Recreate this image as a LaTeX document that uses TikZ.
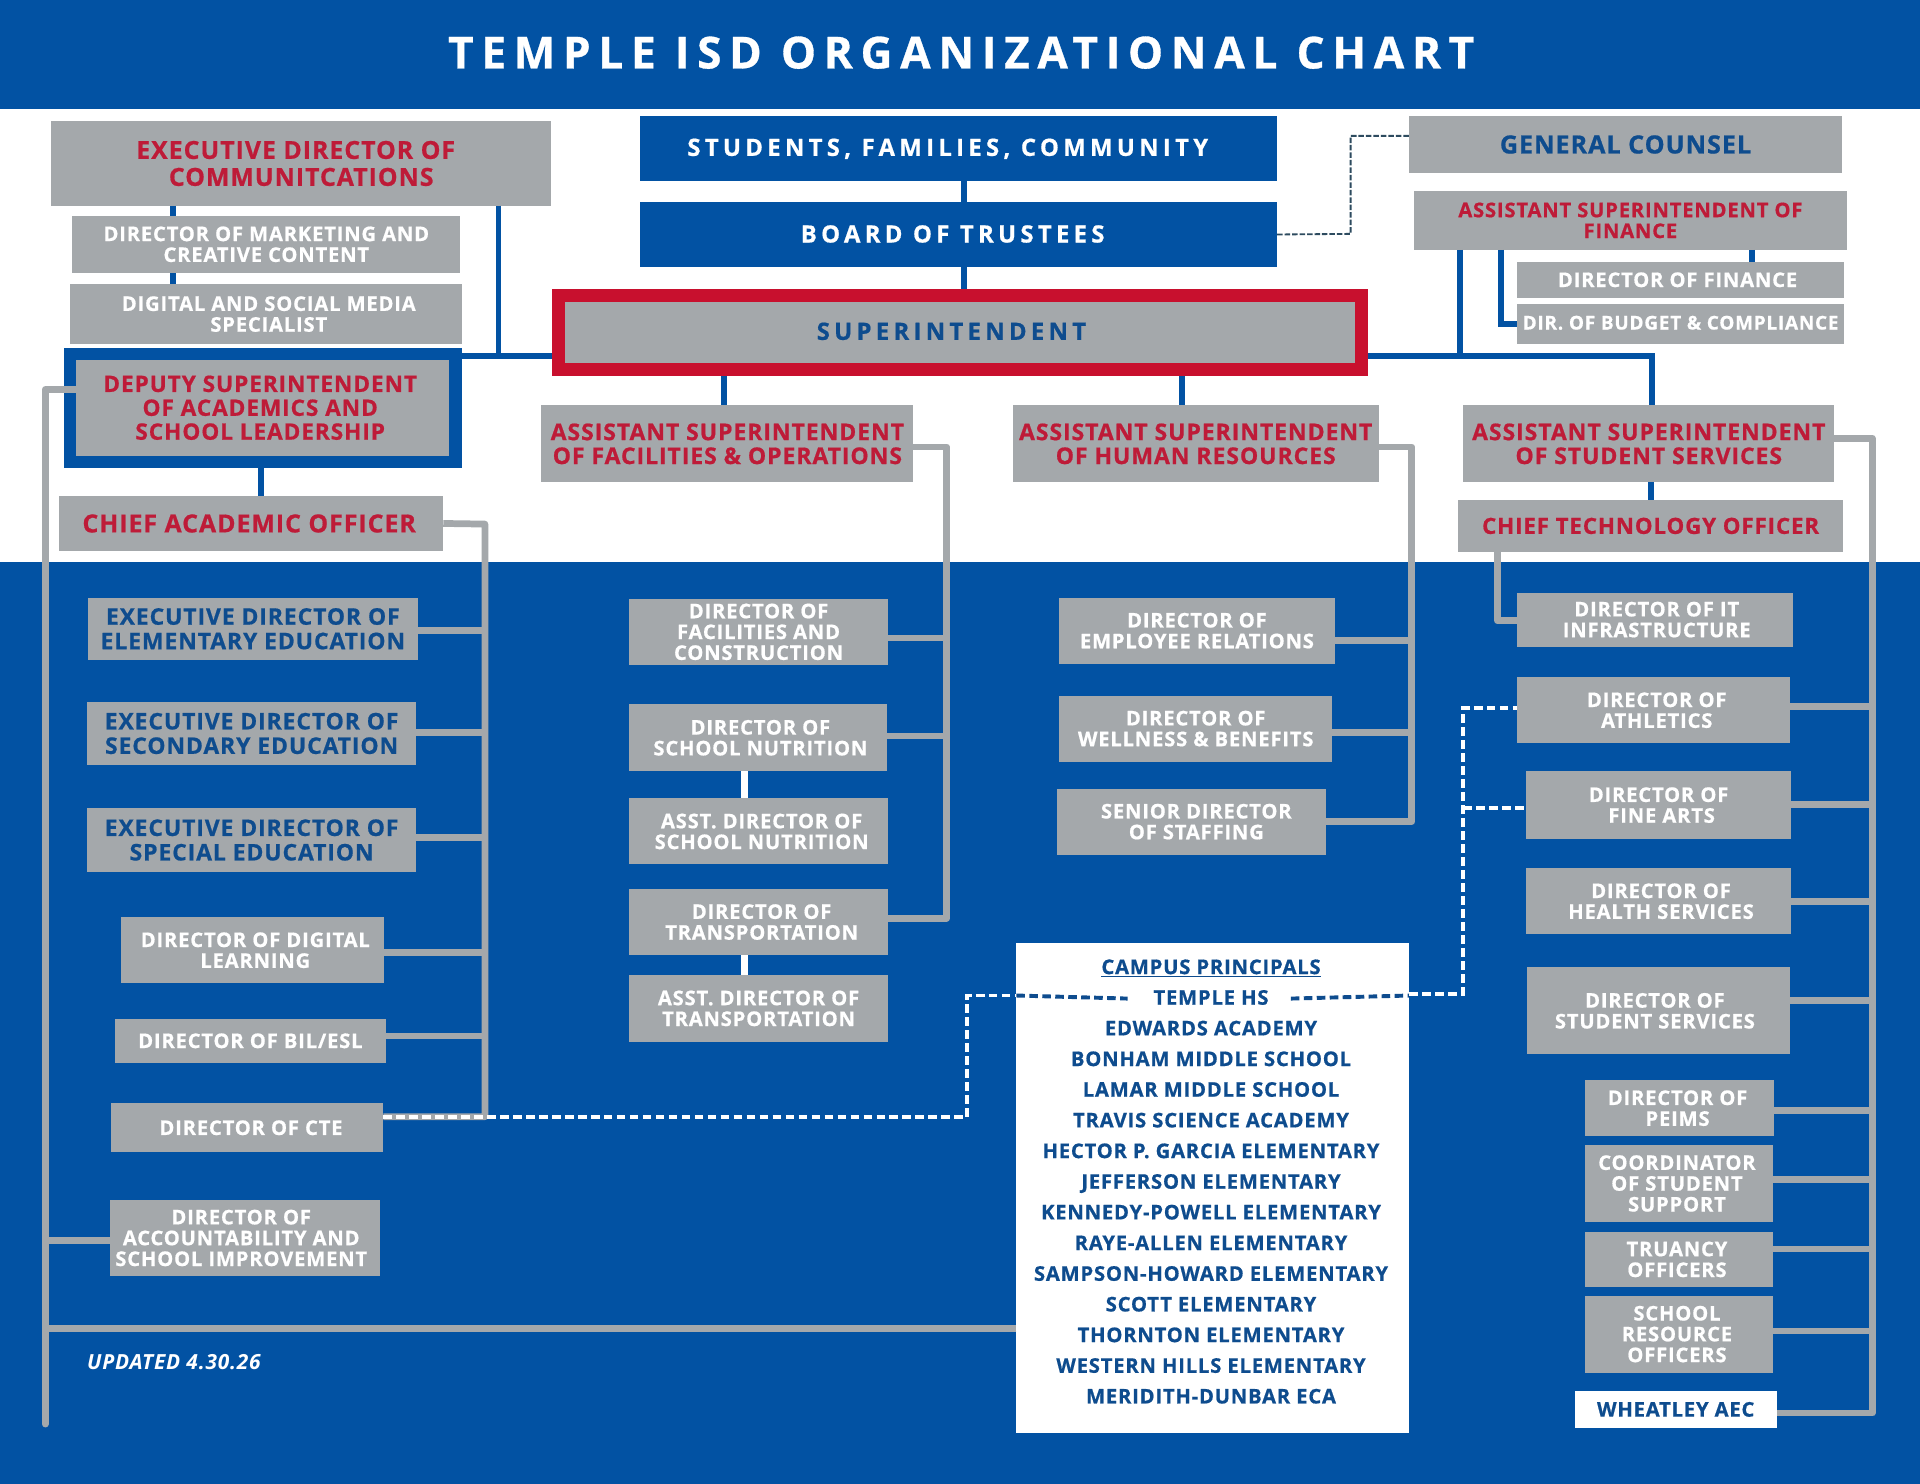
\documentclass[tikz,border=0pt]{standalone}
\usepackage{fontspec}
\setmainfont{Open Sans}[LetterSpace=4,BoldFeatures={FakeBold=0.7}]
\newfontfamily\titlefont{Open Sans}[LetterSpace=17.5,BoldFeatures={FakeBold=0.7}]
\newfontfamily\widefont{Open Sans}[LetterSpace=18,BoldFeatures={FakeBold=0.7}]
\definecolor{isdblue}{RGB}{2,82,163}
\definecolor{isdgray}{RGB}{164,168,171}
\definecolor{isdred}{RGB}{200,16,46}
\definecolor{txtred}{RGB}{190,27,56}
\definecolor{txtblue}{RGB}{14,76,142}
\definecolor{thindash}{RGB}{45,75,95}
\newcommand{\fs}[2]{\fontsize{#1}{#2}\selectfont\bfseries}
\tikzset{
  sz/.style 2 args={minimum width=#1,minimum height=#2},
  card/.style={fill=isdgray,inner sep=0pt,outer sep=0pt,align=center},
  redbig/.style={card,text=txtred,font=\fs{20.3}{22}},
  redmid/.style={card,text=txtred,font=\fs{18.8}{19.5}},
  redsmall/.style={card,text=txtred,font=\fs{16.5}{17}},
  bluemid/.style={card,text=txtblue,font=\fs{18.7}{20}},
  whitesm/.style={card,text=white,font=\fs{16.5}{17}},
  bluebar/.style={fill=isdblue,text=white,inner sep=0pt,outer sep=0pt,font=\widefont\fs{19.5}{20}},
  school/.style={inner sep=0pt,text=txtblue,font=\fs{16.5}{17},text height=12pt,text depth=0pt},
  blueline/.style={draw=isdblue,line width=5pt},
  grayline/.style={draw=isdgray,line width=5.5pt,line join=round},
  whiteline/.style={draw=white,line width=5pt},
  dashwhite/.style={draw=white,line width=3.2pt,dash pattern=on 7pt off 3.6pt},
  dashdark/.style={draw=txtblue,line width=3.2pt,dash pattern=on 7pt off 3.6pt},
}
\begin{document}
\begin{tikzpicture}[x=1pt,y=-1pt]
\useasboundingbox (0,0) rectangle (1568,1211.9);
\fill[white] (0,0) rectangle (1568,1211.9);
\fill[isdblue] (0,0) rectangle (1568,89);
\fill[isdblue] (0,459) rectangle (1568,1211.9);
\node[inner sep=0pt,text=white,font=\titlefont\fs{36}{40}] (title) at (785,43) {TEMPLE ISD ORGANIZATIONAL CHART};

% top middle
\node[bluebar,sz={520}{53}] (students) at (783,121.5) {\kern-18pt\raisebox{1pt}{STUDENTS, FAMILIES, COMMUNITY}};
\node[bluebar,sz={520}{53}] (board) at (783,191.5) {\kern-10pt\raisebox{1pt}{BOARD OF TRUSTEES}};
\node[card,sz={655.5}{60.5},draw=isdred,line width=10.5pt,outer sep=5.25pt,text=txtblue,font=\widefont\fs{19.5}{20}] (super) at (784,271.5) {\kern-14pt\raisebox{2pt}{SUPERINTENDENT}};

% left column, white part
\node[redbig,sz={408}{69}] (execcomm) at (246,133.5) {\kern-9pt EXECUTIVE DIRECTOR OF\\COMMUNITCATIONS};
\node[whitesm,sz={317}{47}] (dirmkt) at (217.5,199.5) {DIRECTOR OF MARKETING AND\\CREATIVE CONTENT};
\node[whitesm,sz={320}{49}] (digsoc) at (217,256.5) {\kern5pt DIGITAL AND SOCIAL MEDIA\\\kern5pt SPECIALIST};
\node[redmid,font=\fs{18.5}{19.5},sz={315}{88},draw=isdblue,line width=10pt,outer sep=5pt] (deputy) at (214.5,333) {\kern-4pt DEPUTY SUPERINTENDENT\\\kern-4pt OF ACADEMICS AND\\\kern-4pt SCHOOL LEADERSHIP};
\node[redmid,font=\fs{20.3}{22},sz={314}{45}] (cao) at (205,427.5) {\kern-3pt CHIEF ACADEMIC OFFICER};

% left column, blue part
\node[bluemid,sz={269}{51}] (elem) at (206.5,513.5) {EXECUTIVE DIRECTOR OF\\ELEMENTARY EDUCATION};
\node[bluemid,sz={269}{52}] (sec) at (205.5,599) {EXECUTIVE DIRECTOR OF\\SECONDARY EDUCATION};
\node[bluemid,sz={269}{52}] (sped) at (205.5,686) {EXECUTIVE DIRECTOR OF\\SPECIAL EDUCATION};
\node[whitesm,sz={215}{54}] (diglearn) at (206.5,776) {\kern4pt DIRECTOR OF DIGITAL\\\kern4pt LEARNING};
\node[whitesm,sz={221}{36}] (bil) at (204.5,850) {DIRECTOR OF BIL/ESL};
\node[whitesm,sz={222}{40}] (cte) at (202,921) {\kern6pt DIRECTOR OF CTE};
\node[whitesm,sz={220}{62}] (acct) at (200,1011) {\kern-6pt DIRECTOR OF\\\kern-6pt ACCOUNTABILITY AND\\\kern-6pt SCHOOL IMPROVEMENT};

% assistant superintendents
\node[redmid,sz={304}{63}] (asfac) at (594,362.5) {ASSISTANT SUPERINTENDENT\\OF FACILITIES \& OPERATIONS};
\node[redmid,sz={299}{63}] (ashr) at (976.5,362.5) {ASSISTANT SUPERINTENDENT\\OF HUMAN RESOURCES};
\node[redmid,sz={303}{63}] (asss) at (1346.5,362.5) {ASSISTANT SUPERINTENDENT\\OF STUDENT SERVICES};
\node[redmid,font=\fs{18.2}{19.5},sz={314}{43}] (cto) at (1348,429.5) {CHIEF TECHNOLOGY OFFICER};

% top right
\node[card,sz={353}{46},text=txtblue,font=\fs{20.5}{22}] (counsel) at (1327.5,118) {GENERAL COUNSEL};
\node[redsmall,sz={353}{48}] (asfin) at (1331.5,180) {\raisebox{-1pt}{ASSISTANT SUPERINTENDENT OF}\\\raisebox{-1pt}{FINANCE}};
\node[whitesm,sz={267}{29}] (dirfin) at (1372.5,228.5) {\kern-5pt DIRECTOR OF FINANCE};
\node[whitesm,font=\fs{15.5}{17},sz={267}{33}] (budget) at (1372.5,264.5) {\raisebox{2pt}{DIR. OF BUDGET \& COMPLIANCE}};

% facilities
\node[whitesm,sz={211}{54}] (dirfac) at (619.5,516) {\raisebox{-2pt}{DIRECTOR OF}\\\raisebox{-2pt}{FACILITIES AND}\\\raisebox{-2pt}{CONSTRUCTION}};
\node[whitesm,sz={210}{55}] (nutr) at (619,602.5) {\kern4pt\raisebox{-1pt}{DIRECTOR OF}\\\kern4pt\raisebox{-1pt}{SCHOOL NUTRITION}};
\node[whitesm,sz={211}{54}] (asstnutr) at (619.5,679) {\kern5pt ASST. DIRECTOR OF\\\kern5pt SCHOOL NUTRITION};
\node[whitesm,sz={211}{54}] (transp) at (619.5,753) {\kern5pt DIRECTOR OF\\\kern5pt TRANSPORTATION};
\node[whitesm,sz={211}{55}] (assttrans) at (619.5,823.5) {ASST. DIRECTOR OF\\TRANSPORTATION};

% human resources
\node[whitesm,sz={225}{54}] (emprel) at (977.5,515) {DIRECTOR OF\\EMPLOYEE RELATIONS};
\node[whitesm,sz={223}{54}] (wellness) at (976.5,595) {DIRECTOR OF\\WELLNESS \& BENEFITS};
\node[whitesm,sz={220}{54}] (staffing) at (973,671) {\kern8pt SENIOR DIRECTOR\\\kern8pt OF STAFFING};

% student services
\node[whitesm,sz={225}{44}] (itinf) at (1351.5,506) {\kern3pt DIRECTOR OF IT\\\kern3pt INFRASTRUCTURE};
\node[whitesm,sz={223}{54}] (athletics) at (1350.5,580) {\kern5pt DIRECTOR OF\\\kern5pt ATHLETICS};
\node[whitesm,sz={217}{55}] (finearts) at (1354.5,657.5) {DIRECTOR OF\\\kern5pt FINE ARTS};
\node[whitesm,sz={217}{54}] (health) at (1354.5,736) {\kern4pt DIRECTOR OF\\\kern4pt HEALTH SERVICES};
\node[whitesm,sz={215}{71}] (stuserv) at (1354.5,825.5) {\kern-6pt DIRECTOR OF\\\kern-6pt STUDENT SERVICES};
\node[whitesm,sz={155}{46}] (peims) at (1371.5,905) {\kern-3pt DIRECTOR OF\\\kern-3pt PEIMS};
\node[whitesm,sz={154}{63}] (coord) at (1371,966.5) {\kern-3pt COORDINATOR\\\kern-3pt OF STUDENT\\\kern-3pt SUPPORT};
\node[whitesm,sz={154}{45}] (truancy) at (1371,1028.5) {\kern-3pt TRUANCY\\\kern-3pt OFFICERS};
\node[whitesm,sz={154}{63}] (sro) at (1371,1089.5) {\kern-3pt SCHOOL\\\kern-3pt RESOURCE\\\kern-3pt OFFICERS};
\node[card,fill=white,sz={165}{30},text=txtblue,font=\fs{16.5}{17}] (wheatley) at (1368.5,1151) {WHEATLEY AEC};

% campus list
\node[fill=white,inner sep=0pt,outer sep=0pt,sz={321}{400}] (campusbox) at (990.5,970) {};
\node[school] (campus0) at (989,789.5) {\underline{CAMPUS PRINCIPALS}};
\foreach \school [count=\i] in {TEMPLE HS,EDWARDS ACADEMY,BONHAM MIDDLE SCHOOL,LAMAR MIDDLE SCHOOL,TRAVIS SCIENCE ACADEMY,HECTOR P. GARCIA ELEMENTARY,JEFFERSON ELEMENTARY,KENNEDY-POWELL ELEMENTARY,RAYE-ALLEN ELEMENTARY,SAMPSON-HOWARD ELEMENTARY,SCOTT ELEMENTARY,THORNTON ELEMENTARY,WESTERN HILLS ELEMENTARY,MERIDITH-DUNBAR ECA}
  \node[school] (campus\i) at (989,{814.5+25.05*(\i-1)}) {\school};

\node[inner sep=0pt,text=white,font=\itshape\fs{17}{18}] (updated) at (142,1112) {UPDATED 4.30.26};

% blue connectors
\coordinate (hubl) at (407,290.5);
\coordinate (hubr) at (1349,290.5);
\coordinate (finbus) at (1192,290.5);
\coordinate (budbus) at (1225.5,264.5);
\draw[blueline] ([xshift=4pt]students.south) -- ([xshift=4pt]board.north);
\draw[blueline] ([xshift=4pt]board.south) -- ([xshift=4pt]board.south |- super.north);
\draw[blueline] (141,168) -- (141,176);
\draw[blueline] (141,223) -- (141,232);
\draw[blueline,line width=4.5pt] (execcomm.south -| hubl) -- (hubl);
\draw[blueline] (hubl -| deputy.east) -- (hubl -| super.west);
\draw[blueline] (hubr -| super.east) -- (hubr) -- (hubr |- asss.north);
\draw[blueline] (finbus |- asfin.south) -- (finbus);
\draw[blueline] (budbus |- asfin.south) -- (budbus) -- (budget.west);
\draw[blueline] ([xshift=99.5pt]asfin.south) -- ([xshift=99.5pt]asfin.south |- dirfin.north);
\draw[blueline] (591,307) -- (591,331);
\draw[blueline] (965,307) -- (965,331);
\draw[blueline] (deputy.south -| 213,0) -- (cao.north -| 213,0);
\draw[blueline] (asss.south -| 1348,0) -- (cto.north -| 1348,0);

% thin dashed to counsel
\coordinate (lawturn) at (1103,191);
\draw[draw=thindash,line width=1.5pt,dash pattern=on 4.5pt off 1.6pt] (board.east) -- (lawturn) -- (1103,111) -- ([yshift=7pt]counsel.west);

% gray connectors
\coordinate (caobus) at (396,428);
\coordinate (facbus) at (773,365);
\coordinate (hrbus) at (1153,365);
\coordinate (ssbus) at (1529,358);
\coordinate (leftbus) at (37,318);
\draw[grayline,line cap=round] ([yshift=15pt]deputy.west) ++(10,0) -- (leftbus) -- (37,1163);
\draw[grayline] (acct.west |- 0,1013) -- (37,1013);
\draw[grayline] (campusbox.west |- 0,1085) -- (37,1085);
\draw[grayline] (cao.east) -- (caobus) -- (caobus |- 0,912) -- ([yshift=9pt]cte.east);
\foreach \n/\s in {elem/-1.5,sec/1,sped/2,diglearn/-2,bil/4}
  \draw[grayline] ([yshift=\s pt]\n.east) -- ([yshift=\s pt]\n.east -| caobus);
\draw[grayline] ([yshift=-2.5pt]asfac.east) -- (facbus) -- (facbus |- 0,750) -- ([yshift=3pt]transp.east);
\foreach \n/\s in {dirfac/-5,nutr/1.5}
  \draw[grayline] ([yshift=\s pt]\n.east) -- ([yshift=\s pt]\n.east -| facbus);
\draw[grayline] ([yshift=-2.5pt]ashr.east) -- (hrbus) -- (hrbus |- staffing) -- (staffing.east);
\foreach \n/\s in {emprel/-8,wellness/-3}
  \draw[grayline] ([yshift=\s pt]\n.east) -- ([yshift=\s pt]\n.east -| hrbus);
\draw[grayline] ([yshift=4.5pt]asss.east) -- (ssbus) -- (ssbus |- 0,1154) -- ([yshift=-3pt]wheatley.east);
\foreach \n/\s in {athletics/3,finearts/0.5,health/0,stuserv/8.5,peims/-2,coord/3.5,truancy/8.5,sro/2.5}
  \draw[grayline] ([yshift=\s pt]\n.east) -- ([yshift=\s pt]\n.east -| ssbus);
\draw[grayline] (1223,451) -- (1223,507) -- (itinf.west |- 0,507);

% white ties
\draw[whiteline] (nutr.south -| 608,0) -- (asstnutr.north -| 608,0);
\draw[whiteline] (transp.south -| 608,0) -- (assttrans.north -| 608,0);

% dashed links to campuses
\coordinate (dashl) at (790,813);
\coordinate (dashr) at (1195,811.5);
\draw[dashwhite] ([yshift=9pt]cte.east) -- (dashl |- 0,912) -- (dashl) -- (campusbox.west |- dashl);
\draw[dashdark] (campusbox.west |- dashl) -- ([xshift=-21pt,yshift=-1pt]campus1.west);
\draw[dashdark] ([xshift=18pt,yshift=-1pt]campus1.east) -- (campusbox.east |- dashl);
\draw[dashwhite] (campusbox.east |- dashr) -- (dashr) -- (dashr |- 0,578) -- ([yshift=2pt]athletics.west);
\draw[dashwhite] (dashr |- 0,660) -- ([yshift=-2.5pt]finearts.west);
\end{tikzpicture}
\end{document}
